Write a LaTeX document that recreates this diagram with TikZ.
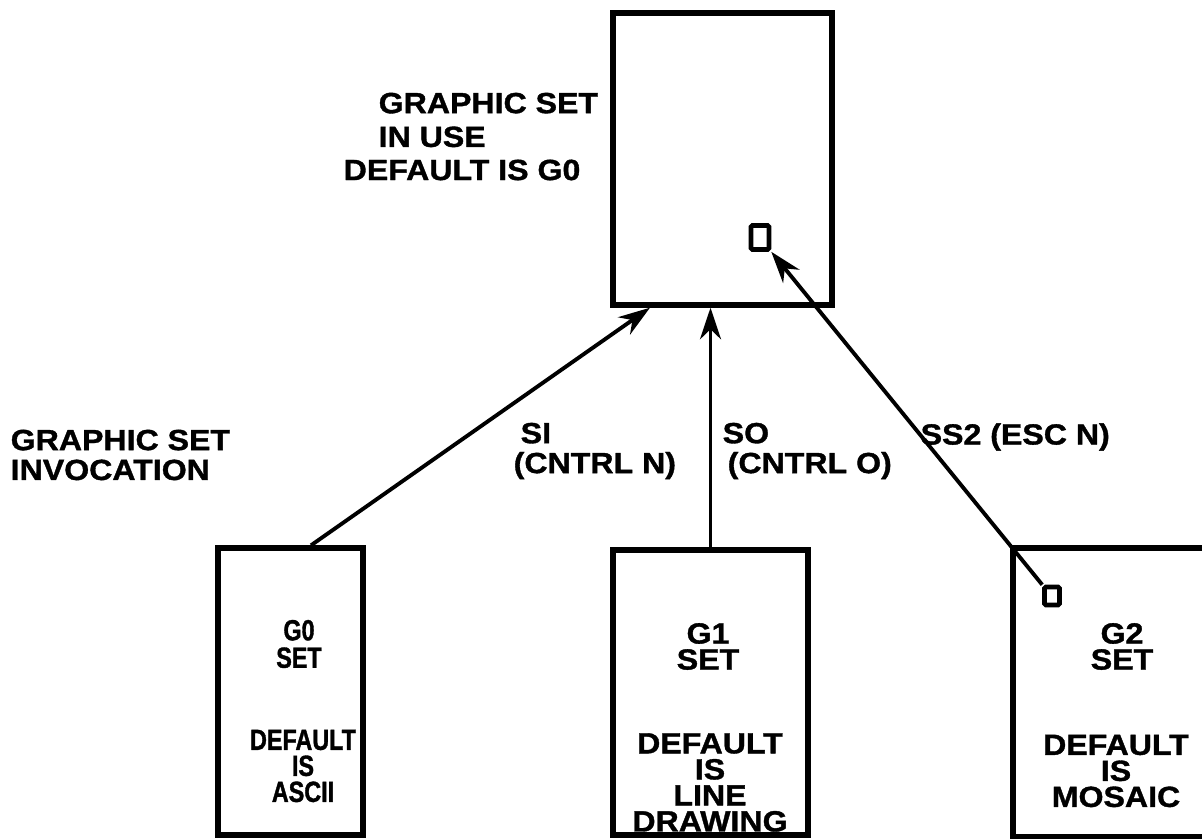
\documentclass[tikz,border=0pt]{standalone}
\usepackage{fontspec}
\setmainfont{Liberation Sans}[FakeStretch=1.1,FakeBold=1.2]
\newfontfamily\narrowfont{Liberation Sans}[FakeStretch=0.8,FakeBold=1.2]
\usetikzlibrary{arrows.meta,positioning}

\begin{document}
\begin{tikzpicture}[
  x=0.01cm, y=-0.01cm,
  >={Stealth[length=9pt,width=6pt]},
  font=\bfseries\fontsize{8.3}{8.5}\selectfont,
  setbox/.style={rectangle, draw, line width=1.5pt, inner sep=0pt},
  tag/.style={rectangle, draw, line width=1.3pt, rounded corners=0.4pt, inner sep=0pt},
  invoke/.style={->, line width=1.1pt},
  lbl/.style={anchor=west, align=left, inner sep=0pt},
  settxt/.style={align=center, inner sep=0pt, font=\bfseries\fontsize{8.3}{7.4}\selectfont},
]
\useasboundingbox (0,0) rectangle (1202,839);
\clip (0,0) rectangle (1202,839);

% Graphic set in use (top)
\node[setbox, minimum width=2.19cm, minimum height=2.92cm] (inuse) at (722.5,159) {};
\node[tag, minimum width=0.18cm, minimum height=0.24cm] (inusetag) at (760,237.5) {};
\node[lbl, font=\bfseries\fontsize{8.3}{9.6}\selectfont] (inuse-lbl) at (378,120) {GRAPHIC SET\\IN USE};
\node[lbl] (default-lbl) at (343,170) {DEFAULT IS G0};

% The three graphic sets
\node[setbox, minimum width=1.45cm, minimum height=2.87cm] (g0) at (290.5,691.5) {};
\node[setbox, minimum width=1.95cm, minimum height=2.85cm] (g1) at (710.5,692.5) {};
\node[setbox, minimum width=2.07cm, minimum height=2.89cm] (g2) at (1116.5,692.5) {};
\node[tag, minimum width=0.15cm, minimum height=0.18cm] (g2tag) at (1052,596) {};

\node[settxt, font=\narrowfont\bfseries\fontsize{8.3}{7.8}\selectfont] (g0-name) at (299,644) {G0\\SET};
\node[settxt, font=\narrowfont\bfseries\fontsize{8.3}{7.4}\selectfont] (g0-def) at (303,766) {DEFAULT\\IS\\ASCII};
\node[settxt] (g1-name) at (708,646.5) {G1\\SET};
\node[settxt] (g1-def)  at (710,782.5) {DEFAULT\\IS\\LINE\\DRAWING};
\node[settxt] (g2-name) at (1122,646.5) {G2\\SET};
\node[settxt] (g2-def)  at (1116,771) {DEFAULT\\IS\\MOSAIC};

% Invocation arrows
\draw[invoke] (g0.82) -- (inuse.244);
\draw[invoke] (g1.north) -- (g1.north |- inuse.south);
\draw[invoke] (g2tag.north west) -- (inusetag.south east);

% Labels
\node[lbl] (invoc-lbl) at (10,455) {GRAPHIC SET\\INVOCATION};
\node[lbl] (si-lbl) at (513,451) {\hspace*{0.07cm}SI\\(CNTRL N)};
\node[lbl] (so-lbl) at (722,451) {SO\\\hspace*{0.05cm}(CNTRL O)};
\node[lbl] (ss2-lbl) at (920,437) {SS2 (ESC N)};

\end{tikzpicture}
\end{document}
